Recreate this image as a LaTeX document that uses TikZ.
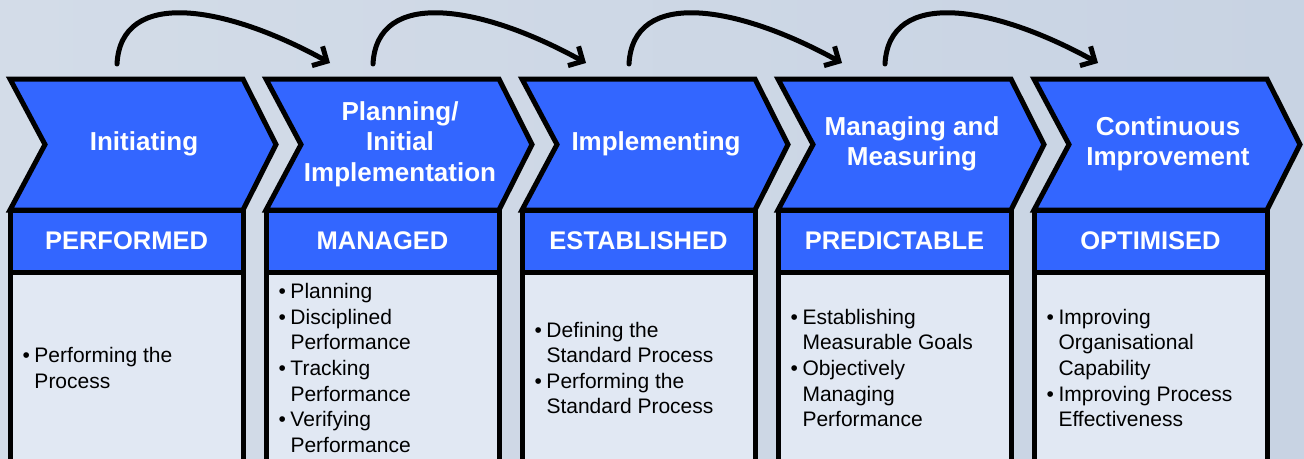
\documentclass[tikz,border=0pt]{standalone}
\usepackage{fontspec}
\setmainfont{Liberation Sans}
\usetikzlibrary{arrows.meta}
\definecolor{stageblue}{HTML}{3366FF}
\definecolor{bodyfill}{HTML}{E1E8F3}
\definecolor{bgleft}{HTML}{D3DCE8}
\definecolor{bgright}{HTML}{C8D3E3}
\newcommand{\bul}{\makebox[12pt][l]{\textbullet}}
\newcommand{\ind}{\hspace*{12pt}}

\begin{document}
\begin{tikzpicture}[x=1pt, y=-1pt, line width=5pt,
    chev/.style={draw=black, fill=stageblue, line join=miter},
    levelbox/.style={draw=black, fill=stageblue},
    bodybox/.style={draw=black, fill=bodyfill},
    stagetext/.style={text=white, align=center, font=\fontsize{26}{30.5}\selectfont\bfseries},
    leveltext/.style={text=white, font=\fontsize{25.5}{30}\selectfont\bfseries},
    bodytext/.style={anchor=west, align=left, inner sep=0pt, font=\fontsize{21}{25.6}\selectfont},
    flow/.style={-{Straight Barb[length=11pt,width=22pt]}, line cap=round}]
    \useasboundingbox (0,0) rectangle (1304,458);
    \clip (0,0) rectangle (1304,458);
    \shade[left color=bgleft, right color=bgright] (0,0) rectangle (1304,458);

    % stages
    \foreach \i/\stage/\level in {0/Initiating/PERFORMED,
        1/{Planning/\\Initial\\Implementation}/MANAGED,
        2/Implementing/ESTABLISHED,
        3/{Managing and\\Measuring}/PREDICTABLE,
        4/{Continuous\\Improvement}/OPTIMISED}{
      \pgfmathsetmacro{\xa}{10+256*\i}
      \pgfmathsetmacro{\xb}{\xa+233}
      \draw[chev] (\xa,79) -- (\xb,79) -- (\xb+33,144.5) -- (\xb,210)
        -- (\xa,210) -- (\xa+35,144.5) -- cycle;
      \draw[levelbox] (\xa,210) rectangle (\xb,272);
      \draw[bodybox] (\xa,272) rectangle (\xb,480);
      \node[stagetext] (stage\i) at (\xa+134,144) {\stage};
      \node[leveltext] (level\i) at (\xa+116.5,241) {\level};
    }

    % arrows between stages
    \foreach \i in {0,...,3}{
      \coordinate (from\i) at (117+256*\i,64);
      \coordinate (to\i) at (330+256*\i,63);
      \draw[flow] (from\i) .. controls +(4,-76) and +(-105,-58) .. (to\i);
    }

    \node[bodytext] (body0) at (20,368) {\bul Performing the\\\ind Process};
    \node[bodytext] (body1) at (276,368) {\bul Planning\\\bul Disciplined\\\ind Performance\\\bul Tracking\\\ind Performance\\\bul Verifying\\\ind Performance};
    \node[bodytext] (body2) at (532,368) {\bul Defining the\\\ind Standard Process\\\bul Performing the\\\ind Standard Process};
    \node[bodytext] (body3) at (788,368) {\bul Establishing\\\ind Measurable Goals\\\bul Objectively\\\ind Managing\\\ind Performance};
    \node[bodytext] (body4) at (1044,368) {\bul Improving\\\ind Organisational\\\ind Capability\\\bul Improving Process\\\ind Effectiveness};
\end{tikzpicture}
\end{document}
